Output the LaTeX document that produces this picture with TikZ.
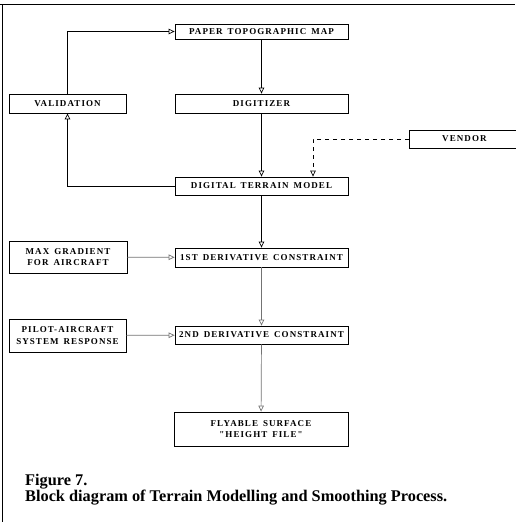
\documentclass[tikz,border=0pt]{standalone}
\usepackage{fontspec}
\setmainfont{Liberation Serif}
\newfontfamily\boxfont[LetterSpace=12,WordSpace=1.5]{Liberation Serif}
\usetikzlibrary{arrows.meta}
\begin{document}
\begin{tikzpicture}[x=1pt,y=-1pt,
  blk/.style={draw,line width=0.8pt,inner sep=0pt,align=center,
    font=\boxfont\bfseries\fontsize{9}{11.5}\selectfont},
  conn/.style={line width=0.7pt,-{Triangle[open,length=6pt,width=5.5pt,line width=0.7pt]}},
  gconn/.style={conn,draw=black!55},
  dconn/.style={conn,dash pattern=on 4pt off 4pt}]
\useasboundingbox (0,0) rectangle (515,522);
\draw[line width=0.9pt] (0,4) -- (515,4);
\draw[line width=0.9pt] (2,4) -- (2,522);
% boxes
\node[blk,minimum width=173pt,minimum height=15pt] (ptm) at (261.5,31.5) {PAPER TOPOGRAPHIC MAP};
\node[blk,minimum width=117pt,minimum height=19pt] (val) at (67.5,103.5) {VALIDATION};
\node[blk,minimum width=173pt,minimum height=19pt] (dig) at (261.5,103.5) {DIGITIZER};
\node[blk,minimum width=110pt,minimum height=18pt,anchor=west] (ven) at (409,139) {VENDOR};
\node[blk,minimum width=173pt,minimum height=18pt] (dtm) at (261.5,186) {DIGITAL TERRAIN MODEL};
\node[blk,minimum width=118pt,minimum height=32pt] (max) at (68,257) {MAX GRADIENT\\FOR AIRCRAFT};
\node[blk,minimum width=173pt,minimum height=19pt] (d1) at (261.5,257.5) {1ST DERIVATIVE CONSTRAINT};
\node[blk,minimum width=117pt,minimum height=33pt] (pil) at (67.5,335.5) {PILOT-AIRCRAFT\\SYSTEM RESPONSE};
\node[blk,minimum width=173pt,minimum height=18pt] (d2) at (261.5,335) {2ND DERIVATIVE CONSTRAINT};
\node[blk,minimum width=174pt,minimum height=34pt] (fly) at (261,429) {FLYABLE SURFACE\\"HEIGHT FILE"};
\coordinate (vc) at (313,139);
% connectors
\draw[conn] (val.north) |- (ptm.west);
\draw[conn] (ptm) -- (dig);
\draw[conn] (dig) -- (dtm);
\draw[dconn] (ven.west) -- (vc) -- (vc |- dtm.north);
\draw[conn] (dtm.west) -| (val.south);
\draw[conn] (dtm) -- (d1);
\draw[gconn] (max) -- (d1);
\draw[gconn] (d1) -- (d2);
\draw[gconn] (pil) -- (d2);
\draw[gconn] (d2) -- (fly);
% caption
\node[anchor=base west,inner sep=0pt,font=\bfseries\fontsize{16.3}{18}\selectfont] (cap1) at (25,485) {Figure 7.};
\node[anchor=base west,inner sep=0pt,font=\bfseries\fontsize{16.3}{18}\selectfont] (cap2) at (25,501) {Block diagram of Terrain Modelling and Smoothing Process.};
\end{tikzpicture}
\end{document}
